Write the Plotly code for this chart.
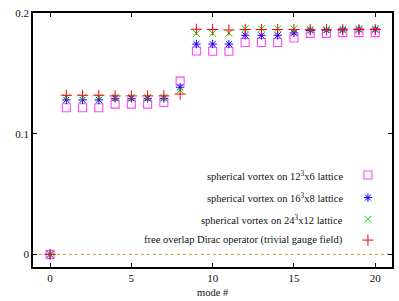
import plotly.graph_objects as go

modes = list(range(21))
sq_12 = [0, 0.1217, 0.1217, 0.1217, 0.1247, 0.1247, 0.1247, 0.1260, 0.1438, 0.1688, 0.1685, 0.1685,
         0.1758, 0.1758, 0.1758, 0.1795, 0.1834, 0.1834, 0.1840, 0.1840, 0.1840]
st_16 = [0, 0.1282, 0.1282, 0.1282, 0.1295, 0.1295, 0.1295, 0.1295, 0.1386, 0.1745, 0.1745, 0.1745,
         0.1818, 0.1818, 0.1818, 0.1838, 0.1858, 0.1860, 0.1862, 0.1865, 0.1865]
x_24 = [0, 0.1303, 0.1303, 0.1303, 0.1303, 0.1303, 0.1303, 0.1303, 0.1363, 0.1834, 0.1834, 0.1836,
        0.1872, 0.1872, 0.1872, 0.1872, 0.1868, 0.1868, 0.1868, 0.1872, 0.1872]
free = [0, 0.1320, 0.1320, 0.1320, 0.1315, 0.1315, 0.1315, 0.1315, 0.1330, 0.1868, 0.1866, 0.1862,
        0.1866, 0.1866, 0.1866, 0.1866, 0.1864, 0.1864, 0.1864, 0.1866, 0.1866]

labels = ["spherical vortex on 12<sup>3</sup>x6 lattice",
          "spherical vortex on 16<sup>3</sup>x8 lattice",
          "spherical vortex on 24<sup>3</sup>x12 lattice",
          "free overlap Dirac operator (trivial gauge field)"]
x_ticks = [0, 5, 10, 15, 20]
y_ticks = [0, 0.1, 0.2]

series = [sq_12, st_16, x_24, free]
styles = [dict(symbol="square-open", color="#ff44ff", size=8, line=dict(width=1.1, color="#ff44ff")),
          dict(symbol="asterisk-open", color="#0000ff", size=7, line=dict(width=1, color="#0000ff")),
          dict(symbol="x-thin-open", color="#00e000", size=7, line=dict(width=1, color="#00e000")),
          dict(symbol="cross-thin-open", color="#ff0000", size=8, line=dict(width=1, color="#ff0000"))]

FONT = "Liberation Serif"
fig = go.Figure()

# dotted zero line
fig.add_trace(go.Scatter(x=[-1.05, 21.05], y=[0, 0], mode="lines",
                         line=dict(color="#c0a030", width=1, dash="dot"), showlegend=False, hoverinfo="skip"))

for ys, st in zip(series, styles):
    fig.add_trace(go.Scatter(x=modes, y=ys, mode="markers", marker=st, showlegend=False))

# legend keys on overlay axes
row_y = [0.362, 0.273, 0.188, 0.106]
for ry, st, lab in zip(row_y, styles, labels):
    fig.add_trace(go.Scatter(x=[0.933], y=[ry], mode="markers", marker=st, xaxis="x2", yaxis="y2",
                             showlegend=False, hoverinfo="skip"))
    fig.add_annotation(x=0.869, y=ry, xref="paper", yref="paper", text=lab, showarrow=False,
                       xanchor="right", yanchor="middle", font=dict(family=FONT, size=10.5, color="#111"))

fig.add_annotation(x=0.5, y=-0.1, xref="paper", yref="paper", text="mode #", showarrow=False,
                   xanchor="center", yanchor="middle", font=dict(family=FONT, size=10.5, color="#111"))

axis_common = dict(showgrid=False, zeroline=False, showline=True, linecolor="black", linewidth=1.5,
                   mirror="ticks", ticks="inside", ticklen=4, tickcolor="black", tickwidth=1,
                   automargin=False, tickfont=dict(family=FONT, size=11, color="#111"))
fig.update_layout(
    width=399, height=301, margin=dict(l=33, r=7, t=13, b=34),
    paper_bgcolor="white", plot_bgcolor="white",
    xaxis=dict(range=[-1.05, 21.03], tickvals=x_ticks, ticktext=[str(v) for v in x_ticks], **axis_common),
    yaxis=dict(range=[-0.0105, 0.2003], tickvals=y_ticks, ticktext=["0", "0.1", "0.2"], **axis_common),
    xaxis2=dict(overlaying="x", range=[0, 1], visible=False),
    yaxis2=dict(overlaying="y", range=[0, 1], visible=False),
    showlegend=False,
)
fig.write_html("out.html", config={"displayModeBar": False},
               post_script="document.body.style.margin='0';")
